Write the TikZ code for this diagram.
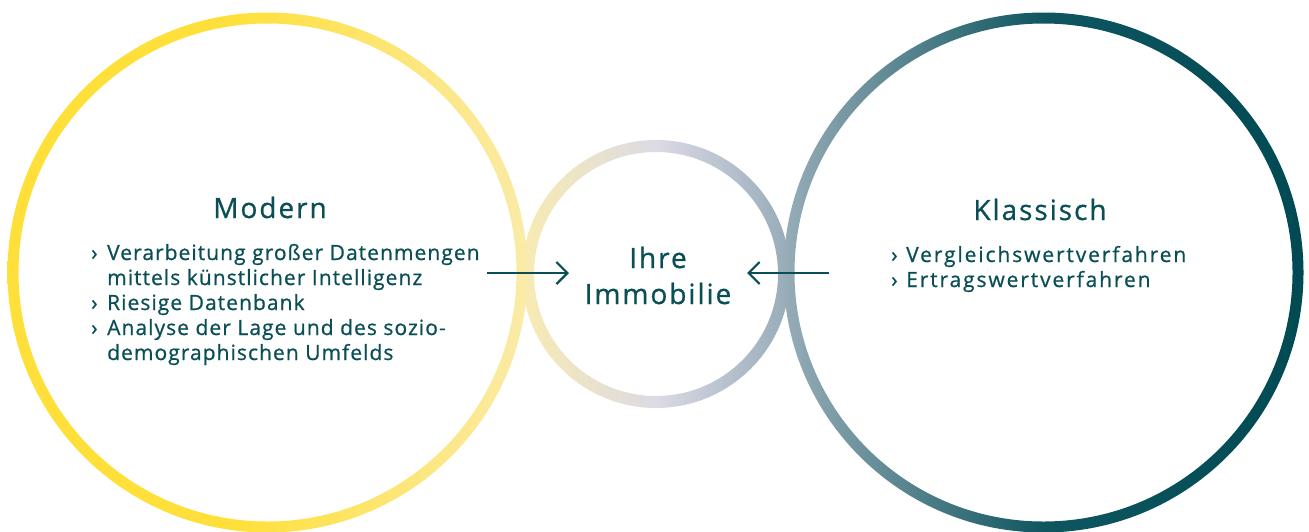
\documentclass[tikz,border=0pt]{standalone}
\usepackage{fontspec}
\setmainfont{Open Sans}[LetterSpace=5, FakeBold=0.8]
\newfontfamily\headfont{Open Sans}[LetterSpace=7, FakeBold=0.8]
\newfontfamily\wideitems{Open Sans}[LetterSpace=9, FakeBold=0.8]
\usetikzlibrary{arrows.meta}
\definecolor{txt}{HTML}{0B4F56}
\definecolor{yA}{HTML}{FFE03A}
\definecolor{yB}{HTML}{FAEBA8}
\definecolor{mA}{HTML}{F8EBB2}
\definecolor{mB}{HTML}{DCDAE5}
\definecolor{mC}{HTML}{96ABB8}
\definecolor{tA}{HTML}{97ADB8}
\definecolor{tB}{HTML}{0F5660}
\definecolor{tC}{HTML}{004A53}
\pgfdeclarehorizontalshading{leftring}{100bp}{color(0bp)=(yA); color(25bp)=(yA); color(47bp)=(yA); color(75bp)=(yB); color(100bp)=(yB)}
\pgfdeclarehorizontalshading{midring}{100bp}{color(0bp)=(mA); color(25bp)=(mA); color(50bp)=(mB); color(75bp)=(mC); color(100bp)=(mC)}
\pgfdeclarehorizontalshading{rightring}{100bp}{color(0bp)=(tA); color(25bp)=(tA); color(50bp)=(tB); color(75bp)=(tC); color(100bp)=(tC)}
\tikzset{
  head/.style={text=txt, inner sep=0pt, font=\headfont\fontsize{28}{36}\selectfont},
  items/.style={text=txt, inner sep=0pt, align=left, font=\fontsize{21}{25}\selectfont},
  witems/.style={items, font=\wideitems\fontsize{21}{25}\selectfont},
  conn/.style={draw=txt, line width=2.2pt, -{Straight Barb[length=11pt,width=22pt]}}
}
\newcommand{\bul}{\makebox[16pt][l]{›}}
\newcommand{\ind}{\hspace*{16pt}}
\begin{document}
\begin{tikzpicture}[x=1pt,y=-1pt]
\useasboundingbox (0,0) rectangle (1309,531);
% rings
\shade[shading=midring, even odd rule] (656,274) circle[radius=134pt] (656,274) circle[radius=122pt];
\shade[shading=leftring, even odd rule] (267.5,272.5) circle[radius=260pt] (267.5,272.5) circle[radius=249pt];
\shade[shading=rightring, even odd rule] (1043.5,272.5) circle[radius=260pt] (1043.5,272.5) circle[radius=249pt];
% texts
\node[head, anchor=base] (modern) at (270,218) {Modern};
\node[items, anchor=base west] (mlist) at (91,360) {\bul Verarbeitung großer Datenmengen\\\ind mittels künstlicher Intelligenz\\\bul Riesige Datenbank\\\bul Analyse der Lage und des sozio-\\\ind demographischen Umfelds};
\node[head, anchor=base] (klass) at (1040,220) {Klassisch};
\node[witems, anchor=base west] (klist) at (891,287) {\makebox[15pt][l]{›}Vergleichswertverfahren\\\makebox[15pt][l]{›}Ertragswertverfahren};
\node[head, anchor=base, align=center] (ihre) at (658,304) {Ihre\\Immobilie};
% connectors
\coordinate (lstart) at (487,273);
\coordinate (lend) at (569,273);
\coordinate (rstart) at (829,273);
\coordinate (rend) at (747,273);
\draw[conn] (lstart) -- (lend);
\draw[conn] (rstart) -- (rend);
\end{tikzpicture}
\end{document}
